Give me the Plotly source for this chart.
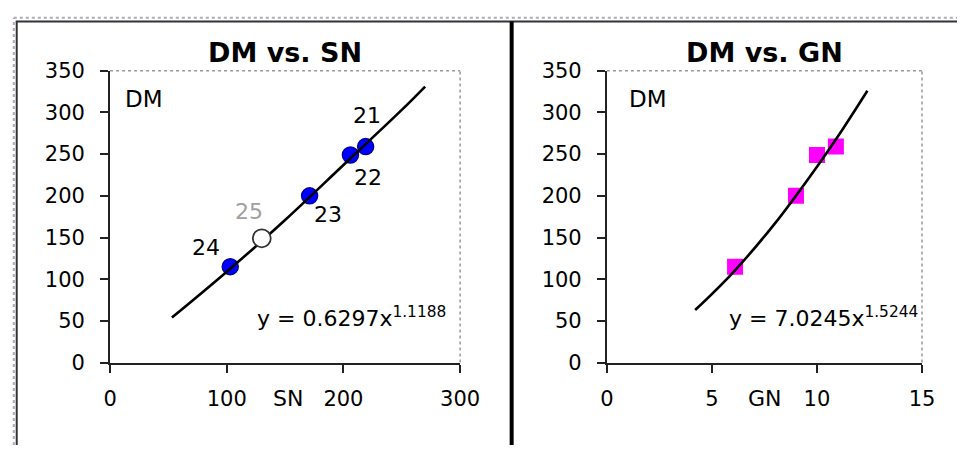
import plotly.graph_objects as go

# ---- data ----
sn_ids = ["21", "22", "23", "24"]
sn_x = [219, 206, 171, 103]
sn_dm = [259, 249, 200, 115]
sn25_x = [130]
sn25_dm = [149]
sn25_id = ["25"]

sn_trend_x = [53, 100, 150, 200, 250, 270]
sn_trend_y = [54, 109, 171, 237, 303, 331]

gn_x = [6.1, 9.0, 10.0, 10.9]
gn_dm = [115, 200, 249, 259]

gn_trend_x = [4.2, 6, 8, 10, 11.2, 12.4]
gn_trend_y = [63, 108, 167, 235, 279, 326]

left_eq = "y = 0.6297x<sup>1.1188</sup>"
right_eq = "y = 7.0245x<sup>1.5244</sup>"
left_title = "DM vs. SN"
right_title = "DM vs. GN"

x1_ticks = [0, 100, 200, 300]
x2_ticks = [0, 5, 10, 15]
y_ticks = [0, 50, 100, 150, 200, 250, 300, 350]

# ---- styles ----
FONT = "DejaVu Sans"
W, H = 977, 457
label_shift = {"21": (1, 31), "22": (18, -23), "23": (18, -19), "24": (-24, 19), "25": (-13, 27)}

fig = go.Figure()

fig.add_trace(go.Scatter(x=sn_x, y=sn_dm, mode="markers", xaxis="x", yaxis="y",
                         marker=dict(size=16, color="#0000ff", line=dict(color="#0000a0", width=1.5)),
                         hoverinfo="x+y"))
fig.add_trace(go.Scatter(x=sn_trend_x, y=sn_trend_y, mode="lines", xaxis="x", yaxis="y",
                         line=dict(color="black", width=2.6, shape="spline"), hoverinfo="skip"))
fig.add_trace(go.Scatter(x=sn25_x, y=sn25_dm, mode="markers", xaxis="x", yaxis="y",
                         marker=dict(size=18, color="white", line=dict(color="#333333", width=1.8))))

fig.add_trace(go.Scatter(x=gn_x, y=gn_dm, mode="markers", xaxis="x2", yaxis="y2",
                         marker=dict(size=16, symbol="square", color="#ff00ff", line=dict(width=0))))
fig.add_trace(go.Scatter(x=gn_trend_x, y=gn_trend_y, mode="lines", xaxis="x2", yaxis="y2",
                         line=dict(color="black", width=2.6, shape="spline"), hoverinfo="skip"))

axis_common = dict(showgrid=False, zeroline=False, showline=True, linecolor="#222222", linewidth=2,
                   ticks="outside", ticklen=8, tickwidth=2, tickcolor="#222222",
                   tickfont=dict(family=FONT, size=21, color="black"), fixedrange=True)

ydom = [1 - 370 / H, 1 - 62 / H]
fig.update_layout(
    width=W, height=H, margin=dict(l=0, r=0, t=0, b=0),
    paper_bgcolor="white", plot_bgcolor="white", showlegend=False,
    xaxis=dict(domain=[106 / W, 466 / W], range=[0, 300], tickvals=x1_ticks, anchor="y",
               ticklabelstandoff=8, **axis_common),
    yaxis=dict(domain=ydom, range=[0, 350], tickvals=y_ticks, anchor="x",
               ticklabelstandoff=11, **axis_common),
    xaxis2=dict(domain=[617 / W, 941 / W], range=[0, 15], tickvals=x2_ticks, anchor="y2",
                ticklabelstandoff=8, **axis_common),
    yaxis2=dict(domain=ydom, range=[0, 350], tickvals=y_ticks, anchor="x2",
                ticklabelstandoff=11, **axis_common),
)

C = dict(showarrow=False, xanchor="center", yanchor="middle")
ann = []
# point labels
for i, t in enumerate(sn_ids):
    dx, dy = label_shift[t]
    ann.append(dict(x=sn_x[i], y=sn_dm[i], xref="x", yref="y", text=t,
                    xshift=dx, yshift=dy, font=dict(family=FONT, size=22, color="black"), **C))
dx, dy = label_shift["25"]
ann.append(dict(x=sn25_x[0], y=sn25_dm[0], xref="x", yref="y", text=sn25_id[0],
                xshift=dx, yshift=dy, font=dict(family=FONT, size=22, color="#a0a0a0"), **C))

for xr, yr, title, eq, eqx, dmx, axl, axlx in [("x", "y", left_title, left_eq, 0.414, 0.097, "SN", 0.508),
                                                ("x2", "y2", right_title, right_eq, 0.38, 0.13, "GN", 0.503)]:
    ann.append(dict(x=0.5, y=1 - 43 / H, xref=xr + " domain", yref="paper", text="<b>" + title + "</b>",
                    font=dict(family=FONT, size=27, color="black"), **C))
    ann.append(dict(x=dmx, y=0.903, xref=xr + " domain", yref=yr + " domain", text="DM",
                    font=dict(family=FONT, size=23, color="black"), **C))
    ann.append(dict(x=eqx, y=0.155, xref=xr + " domain", yref=yr + " domain", text=eq,
                    showarrow=False, xanchor="left", yanchor="middle",
                    font=dict(family=FONT, size=22, color="black")))
    ann.append(dict(x=axlx, y=1 - 408 / H, xref=xr + " domain", yref="paper",
                    text=axl, font=dict(family=FONT, size=22, color="black"), **C))
fig.update_layout(annotations=ann)

shapes = []
# plot-area top/right dotted borders
for xr, yr in [("x", "y"), ("x2", "y2")]:
    shapes.append(dict(type="line", xref=xr + " domain", yref=yr + " domain", x0=0, x1=1, y0=1, y1=1,
                       line=dict(color="#999999", width=1.5, dash="dot")))
    shapes.append(dict(type="line", xref=xr + " domain", yref=yr + " domain", x0=1, x1=1, y0=0, y1=1,
                       line=dict(color="#999999", width=1.5, dash="dot")))
# outer frame
shapes.append(dict(type="line", xref="paper", yref="paper", x0=7 / W, x1=1, y0=1 - 6 / H, y1=1 - 6 / H,
                   line=dict(color="#b3a8b8", width=2, dash="dot")))
shapes.append(dict(type="line", xref="paper", yref="paper", x0=7 / W, x1=7 / W, y0=0, y1=1 - 6 / H,
                   line=dict(color="#b3a8b8", width=2, dash="dot")))
shapes.append(dict(type="line", xref="paper", yref="paper", x0=9 / W, x1=1, y0=1 - 10 / H, y1=1 - 10 / H,
                   line=dict(color="#333333", width=2)))
shapes.append(dict(type="line", xref="paper", yref="paper", x0=10 / W, x1=10 / W, y0=0, y1=1 - 10 / H,
                   line=dict(color="#333333", width=2)))
shapes.append(dict(type="line", xref="paper", yref="paper", x0=519 / W, x1=519 / W, y0=0, y1=1 - 10 / H,
                   line=dict(color="black", width=4)))
fig.update_layout(shapes=shapes)

fig.write_html("out.html", config={"displayModeBar": False},
               post_script="document.body.style.margin='0px';document.body.style.overflow='hidden';")
